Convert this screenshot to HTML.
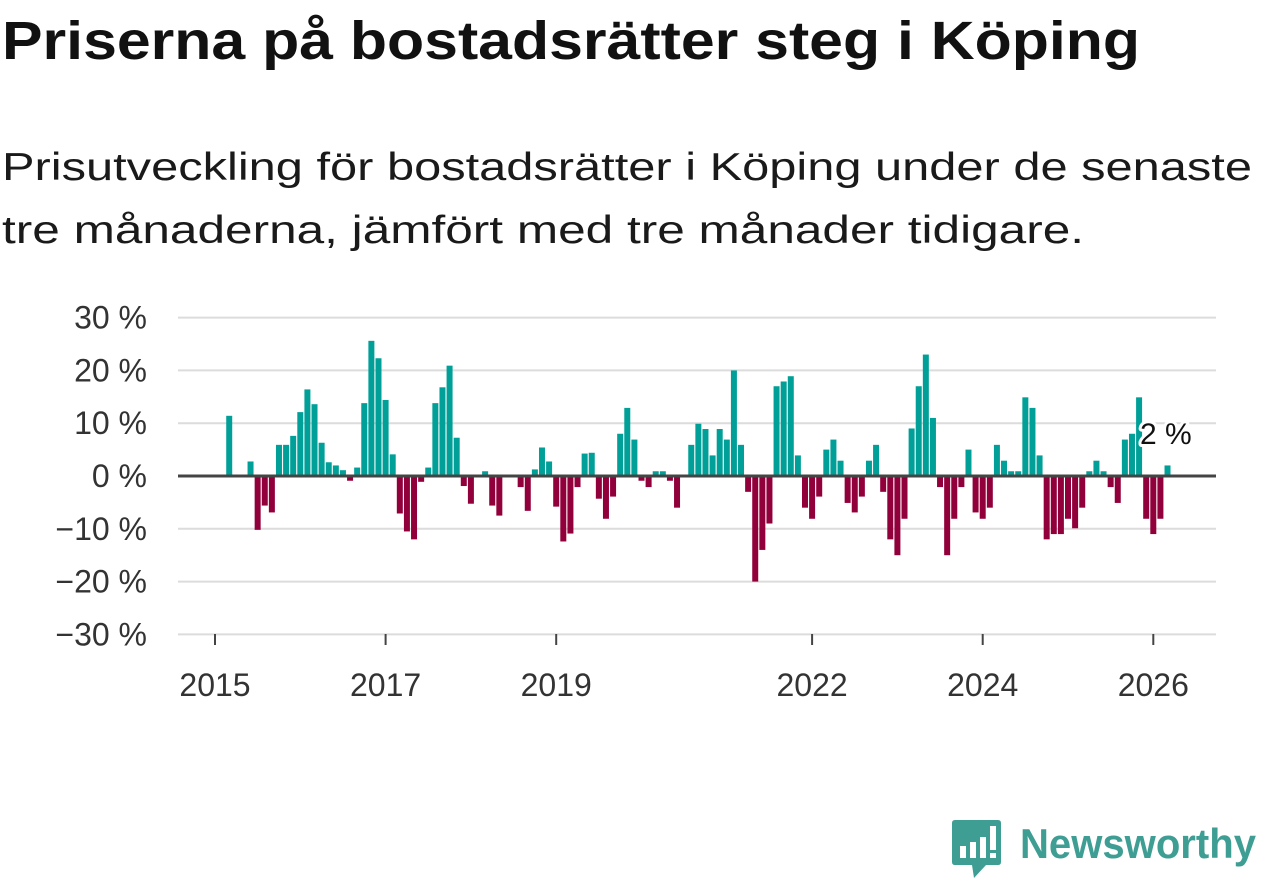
<!DOCTYPE html>
<html><head><meta charset="utf-8">
<style>
body{margin:0;width:1262px;height:879px;background:#fff;font-family:"Liberation Sans","DejaVu Sans",sans-serif;overflow:hidden;position:relative;color:#111}
.fit{position:absolute;white-space:nowrap;transform-origin:0 0;display:inline-block}
#t{left:2px;top:10px;font-size:54px;font-weight:bold;color:#111}
#s1{left:2px;top:146px;font-size:39px;color:#1a1a1a}
#s2{left:2px;top:209px;font-size:39px;color:#1a1a1a}
svg{position:absolute;left:0;top:0}
</style></head><body>
<div class="fit" id="t" data-target="1138">Priserna på bostadsrätter steg i Köping</div>
<div class="fit" id="s1" data-target="1250">Prisutveckling för bostadsrätter i Köping under de senaste</div>
<div class="fit" id="s2" data-target="1082">tre månaderna, jämfört med tre månader tidigare.</div>
<svg id="chart" width="1262" height="879"></svg>
<div style="position:absolute;left:952px;top:820px;width:310px;height:59px">
<svg width="50" height="60" viewBox="0 0 50 60" style="position:absolute;left:0;top:0"><path d="M3 0 H46 Q49 0 49 3 V42 Q49 45 46 45 H34 L22 58 L20 45 H3 Q0 45 0 42 V3 Q0 0 3 0Z" fill="#3f9e94"/><rect x="8" y="26" width="6" height="12" fill="#fff"/><rect x="18" y="22" width="6" height="16" fill="#fff"/><rect x="28" y="17" width="6" height="21" fill="#fff"/><rect x="38" y="6" width="6" height="24" fill="#fff"/><rect x="38" y="33" width="6" height="5" fill="#fff"/></svg>
<span class="fit" id="logo" data-target="236" style="left:68px;top:0px;font-size:42px;font-weight:bold;color:#3f9e94">Newsworthy</span></div>
<script>
document.querySelectorAll('.fit').forEach(e=>{const w=e.getBoundingClientRect().width;const t=+e.dataset.target;e.style.transform='scaleX('+(t/w)+')';});
const values=[11.4,0,0,2.75,-10.2,-5.6,-6.9,5.9,5.9,7.6,12.1,16.4,13.6,6.3,2.6,2.0,1.1,-0.9,1.6,13.8,25.6,22.3,14.4,4.1,-7.1,-10.5,-12,-1.1,1.6,13.8,16.8,20.9,7.25,-1.9,-5.25,0,0.9,-5.6,-7.5,0,0,-2.1,-6.6,1.25,5.4,2.75,-5.8,-12.4,-10.9,-2.1,4.25,4.4,-4.3,-8.1,-3.9,8,12.9,6.9,-0.9,-2.1,0.9,0.9,-0.9,-6,0,5.9,9.9,8.9,3.9,8.9,6.9,20,5.9,-3,-20,-14,-9,17,17.9,18.9,3.9,-6,-8.1,-3.9,5,6.9,2.9,-5.1,-6.9,-3.9,2.9,5.9,-3,-12,-15,-8.1,9,17,23,11,-2.1,-15,-8.1,-2.1,5,-6.9,-8.1,-6,5.9,2.9,0.9,0.9,14.9,12.9,3.9,-12,-11,-11,-8.1,-9.9,-6,0.9,2.9,0.9,-2.1,-5.1,6.9,8,14.9,-8.1,-11,-8.1,2];
const startMonth=1; // Feb 2015
const yTicks=[30,20,10,0,-10,-20,-30];
const yTickLabels=["30 %","20 %","10 %","0 %","\u221210 %","\u221220 %","\u221230 %"];
const xTicks=[2015,2017,2019,2022,2024,2026];
const lastLabel="2 %";
const svg=document.getElementById('chart');
const NS='http://www.w3.org/2000/svg';
const x0=215,pxYear=85.3,y0=476,pxPct=5.28;
const X=t=>x0+(t-2015)*pxYear;
const Y=v=>y0-v*pxPct;
function el(tag,attrs,parent){const e=document.createElementNS(NS,tag);for(const k in attrs)e.setAttribute(k,attrs[k]);(parent||svg).appendChild(e);return e;}
yTicks.forEach((v,i)=>{
 if(v!==0){const g=el('line',{x1:178,x2:1216,y1:Y(v),y2:Y(v),stroke:'#dcdcdc','stroke-width':2});
 
 }
 const t=el('text',{x:147,y:Y(v)+11,'text-anchor':'end','font-size':32,fill:'#333'});
 t.textContent=yTickLabels[i];
 
 
});
values.forEach((v,i)=>{
 const m=startMonth+i;
 const cx=X(2015+(m+1)/12);
 const r=el('rect',{x:cx-3,width:6,y:v>=0?Y(v):y0,height:Math.abs(v)*pxPct,fill:v>=0?'#00a098':'#92003b'});
 
 
});
const z=el('line',{x1:178,x2:1216,y1:y0,y2:y0,stroke:'#444','stroke-width':3});


xTicks.forEach(yr=>{
 const x=X(yr);
 const tk=el('line',{x1:x,x2:x,y1:634,y2:645,stroke:'#444','stroke-width':2});
 
 
 const t=el('text',{x:x,y:696,'text-anchor':'middle','font-size':32,fill:'#333'});
 t.textContent=yr;
 
 
});
const lab=el('text',{x:1140,y:444,'font-size':30,fill:'#111',stroke:'#fff','stroke-width':6,'paint-order':'stroke','stroke-linejoin':'round'});
lab.textContent=lastLabel;


</script>
</body></html>
